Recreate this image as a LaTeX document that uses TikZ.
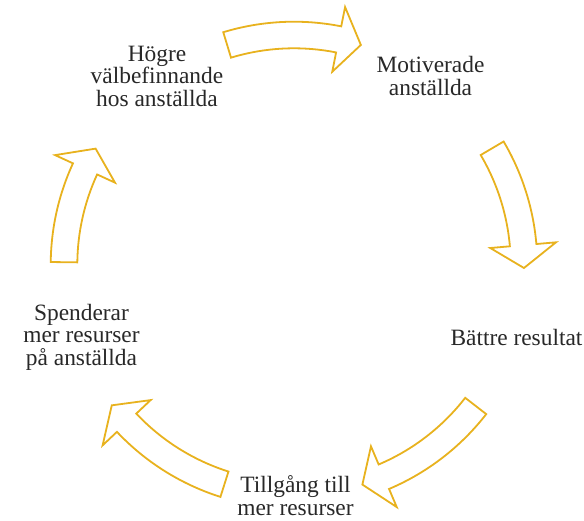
\documentclass[tikz,border=0pt]{standalone}
\usepackage{fontspec}
\setmainfont{Liberation Serif}
\definecolor{cyclegold}{RGB}{232,178,30}
\definecolor{labelgray}{RGB}{40,40,40}

% Curved block arrow on the cycle circle, running clockwise
% from angle #1 (tail) to angle #2 (tip).
\newcommand\cyclearrow[2]{%
  \path[cyclearrowstyle]
    (#1:243.3pt) arc[start angle=#1, end angle={#2+5.7}, radius=243.3pt]
    -- ({#2+5.7}:263pt) -- (#2:230pt) -- ({#2+5.7}:197pt)
    -- ({#2+5.7}:216.7pt) arc[start angle={#2+5.7}, end angle=#1, radius=216.7pt]
    -- cycle;}

\begin{document}
\begin{tikzpicture}[x=1pt,y=1pt,
  cyclearrowstyle/.style={draw=cyclegold, fill=white, line width=1.8pt, line join=miter},
  label/.style={align=center, inner sep=0pt, text=labelgray,
    font=\fontsize{23.4}{22.5}\selectfont}]
  \useasboundingbox (-294,-255) rectangle (290,265);

  % cycle steps
  \node[label] (wellbeing) at (-137,188.7) {Högre\\välbefinnande\\hos anställda};
  \node[label] (motivated) at (136.5,189.1) {Motiverade\\anställda};
  \node[label] (results)   at (222.5,-72.7) {Bättre resultat};
  \node[label] (resources) at (1.5,-230.6) {Tillgång till\\mer resurser};
  \node[label] (spending)  at (-212.5,-72) {Spenderar\\mer resurser\\på anställda};

  % arrows between the steps
  \cyclearrow{106.9}{73.1}
  \cyclearrow{30.5}{-0.75}
  \cyclearrow{-37.8}{-72.7}
  \cyclearrow{-107.6}{-142.4}
  \cyclearrow{179.3}{149.6}
\end{tikzpicture}
\end{document}
